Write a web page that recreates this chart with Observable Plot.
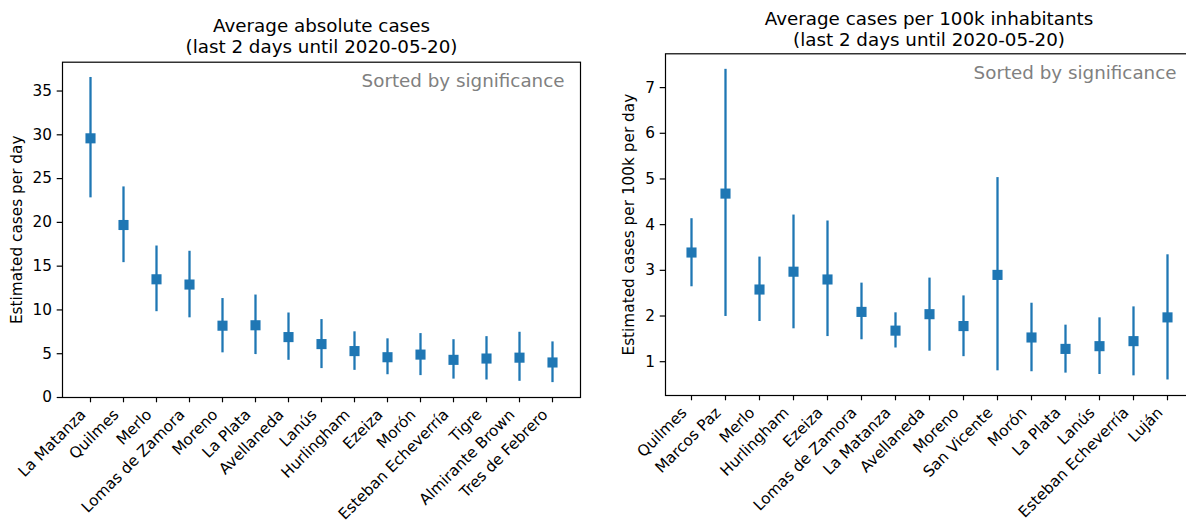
<!DOCTYPE html>
<html>
<head>
<meta charset="utf-8">
<script src="https://cdn.jsdelivr.net/npm/d3@7"></script>
<script src="https://cdn.jsdelivr.net/npm/@observablehq/plot@0.6"></script>
<style>
  html, body { margin: 0; padding: 0; background: white; }
  #wrap { position: relative; width: 1186px; height: 525px; overflow: hidden; background: white; }
  #wrap > div { position: absolute; top: 0; }
  #wrap svg { max-width: none !important; }
</style>
</head>
<body>
<div id="wrap"><div id="left" style="left:0px;width:590px"></div><div id="right" style="left:590px;width:612px"></div></div>
<script>
// ---- Data: left panel (average absolute cases) ----
const leftNames = ["La Matanza","Quilmes","Merlo","Lomas de Zamora","Moreno","La Plata","Avellaneda","Lanús","Hurlingham","Ezeiza","Morón","Esteban Echeverría","Tigre","Almirante Brown","Tres de Febrero"];
const leftMid = [29.6,19.7,13.5,12.9,8.2,8.25,6.9,6.1,5.3,4.6,4.9,4.3,4.45,4.55,4.0];
const leftLo  = [22.8,15.4,9.8,9.1,5.1,4.9,4.25,3.3,3.1,2.6,2.5,2.1,2.0,1.85,1.7];
const leftHi  = [36.55,24.05,17.3,16.7,11.3,11.7,9.65,8.9,7.5,6.7,7.3,6.6,6.95,7.45,6.35];
const leftTicks = [0,5,10,15,20,25,30,35];

// ---- Data: right panel (cases per 100k inhabitants) ----
const rightNames = ["Quilmes","Marcos Paz","Merlo","Hurlingham","Ezeiza","Lomas de Zamora","La Matanza","Avellaneda","Moreno","San Vicente","Morón","La Plata","Lanús","Esteban Echeverría","Luján"];
const rightMid = [3.39,4.68,2.58,2.97,2.80,2.09,1.68,2.04,1.78,2.90,1.53,1.28,1.34,1.45,1.97];
const rightLo  = [2.64,1.99,1.88,1.72,1.55,1.48,1.30,1.23,1.11,0.80,0.78,0.75,0.72,0.69,0.60];
const rightHi  = [4.13,7.40,3.29,4.21,4.08,2.72,2.07,2.83,2.44,5.03,2.28,1.80,1.96,2.20,3.34];
const rightTicks = [1,2,3,4,5,6,7];

const leftTitle = "Average absolute cases\n(last 2 days until 2020-05-20)";
const rightTitle = "Average cases per 100k inhabitants\n(last 2 days until 2020-05-20)";
const leftYLabel = "Estimated cases per day";
const rightYLabel = "Estimated cases per 100k per day";
const note = "Sorted by significance";

const BLUE = "#1f77b4";
const TICK = 15.3, BIG = 18.3;

function rows(names, mid, lo, hi) {
  return names.map((n, i) => ({name: n, mid: mid[i], lo: lo[i], hi: hi[i]}));
}

function panel({names, mid, lo, hi, ticks, title, ylabel, yFromZero, width, marginLeft, marginTop, marginBottom, titleDy, ylabelDx}) {
  const data = rows(names, mid, lo, hi);
  const mn = d3.min(lo), mx = d3.max(hi);
  const dmin = yFromZero ? 0 : mn - 0.05 * (mx - mn);
  const dmax = mx + 0.05 * (mx - mn);
  return Plot.plot({
    width, height: 525,
    marginLeft, marginTop, marginBottom, marginRight: 10,
    style: {fontFamily: "DejaVu Sans", fontSize: TICK + "px", color: "black", background: "white", overflow: "visible", maxWidth: "none"},
    x: {type: "point", domain: names, padding: 0.7, axis: null},
    y: {domain: [dmin, dmax], axis: null},
    marks: [
      Plot.frame({stroke: "black", strokeWidth: 1.2}),
      Plot.axisY({ticks, tickSize: 5.3, tickPadding: 5.3, strokeWidth: 1.2, fontSize: TICK, label: null, tickFormat: d => String(d)}),
      Plot.axisX({tickSize: 5.3, strokeWidth: 1.2, tickFormat: () => "", label: null}),
      Plot.text(names, {x: d => d, text: d => d, frameAnchor: "bottom", rotate: -45, textAnchor: "end", lineAnchor: "top", dx: -11.5, dy: 10.5, fontSize: TICK, fill: "black"}),
      Plot.ruleX(data, {x: "name", y1: "lo", y2: "hi", stroke: BLUE, strokeWidth: 2.3}),
      Plot.dot(data, {x: "name", y: "mid", symbol: "square", r: 5.7, fill: BLUE, stroke: null}),
      Plot.text([note], {text: d => d, frameAnchor: "top-right", textAnchor: "end", lineAnchor: "top", dx: -16, dy: 12, fontSize: BIG, fill: "#808080"}),
      Plot.text([title], {text: d => d, frameAnchor: "top", textAnchor: "middle", lineAnchor: "bottom", lineHeight: 1.15, dy: titleDy, fontSize: BIG, fill: "black"}),
      Plot.text([ylabel], {text: d => d, frameAnchor: "left", textAnchor: "middle", lineAnchor: "middle", rotate: -90, dx: ylabelDx, fontSize: TICK, fill: "black"})
    ]
  });
}

document.getElementById("left").append(panel({
  names: leftNames, mid: leftMid, lo: leftLo, hi: leftHi, ticks: leftTicks,
  title: leftTitle, ylabel: leftYLabel, yFromZero: true,
  width: 590, marginLeft: 62, marginTop: 61.7, marginBottom: 128, titleDy: -9, ylabelDx: -45
}));
document.getElementById("right").append(panel({
  names: rightNames, mid: rightMid, lo: rightLo, hi: rightHi, ticks: rightTicks,
  title: rightTitle, ylabel: rightYLabel, yFromZero: false,
  width: 612, marginLeft: 75, marginTop: 53.3, marginBottom: 130, titleDy: -7.5, ylabelDx: -36
}));
</script>
</body>
</html>
